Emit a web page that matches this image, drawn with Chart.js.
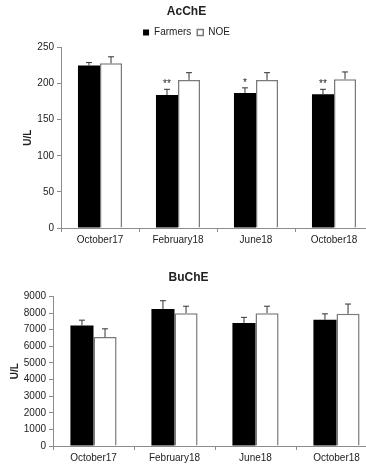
<!DOCTYPE html>
<html>
<head>
<meta charset="utf-8">
<script src="https://cdn.jsdelivr.net/npm/chart.js@4.4.1/dist/chart.umd.min.js"></script>
<style>
  html, body { margin: 0; padding: 0; background: #fff; overflow: hidden; width: 366px; height: 466px; }
  canvas { position: absolute; left: 0; }
  #acheChart { top: 0; }
  #bucheChart { top: 262px; }
</style>
</head>
<body>
<canvas id="acheChart" width="394" height="252"></canvas>
<canvas id="bucheChart" width="406" height="204"></canvas>
<script>
const categories = ['October17', 'February18', 'June18', 'October18'];

const acheFarmers = [225, 184, 187, 185];
const acheFarmersErr = [4, 8, 7, 7];
const acheNoe = [228, 205, 205, 206];
const acheNoeErr = [9, 10, 10, 10];
const acheStars = ['', '**', '*', '**'];
const acheTicks = [0, 50, 100, 150, 200, 250];

const bucheFarmers = [7250, 8240, 7400, 7590];
const bucheFarmersErr = [320, 500, 340, 360];
const bucheNoe = [6550, 7990, 7990, 7950];
const bucheNoeErr = [500, 420, 420, 590];
const bucheTicks = [0, 1000, 2000, 3000, 4000, 5000, 6000, 7000, 8000, 9000];

const FONT = 'Liberation Sans, Arial, sans-serif';
const AXIS = '#8c8c8c';
const TEXT = '#222';

// error bars + significance stars drawn from the y scale
const errorBars = {
    id: 'errorBars',
    afterDatasetsDraw(chart) {
        const ctx = chart.ctx;
        const y = chart.scales.y;
        chart.data.datasets.forEach((ds, i) => {
            const meta = chart.getDatasetMeta(i);
            meta.data.forEach((bar, j) => {
                const v = ds.data[j];
                const top = y.getPixelForValue(v + ds.errors[j]);
                ctx.save();
                ctx.strokeStyle = '#333';
                ctx.lineWidth = 1;
                ctx.beginPath();
                ctx.moveTo(bar.x, y.getPixelForValue(v));
                ctx.lineTo(bar.x, top);
                ctx.moveTo(bar.x - 3, top);
                ctx.lineTo(bar.x + 3, top);
                ctx.stroke();
                if (ds.stars && ds.stars[j]) {
                    ctx.fillStyle = TEXT;
                    ctx.font = '10px ' + FONT;
                    ctx.textAlign = 'center';
                    ctx.textBaseline = 'alphabetic';
                    ctx.fillText(ds.stars[j], bar.x, top - 2);
                }
                ctx.restore();
            });
        });
    }
};

function makeConfig(title, farmers, farmersErr, noe, noeErr, stars, ticks, opts) {
    return {
        type: 'bar',
        data: {
            labels: categories,
            datasets: [
                { label: 'Farmers', data: farmers, errors: farmersErr, stars: stars,
                  backgroundColor: '#000', borderColor: '#000', borderWidth: 0,
                  categoryPercentage: opts.catPct, barPercentage: 1 },
                { label: 'NOE', data: noe, errors: noeErr,
                  backgroundColor: '#fff', borderColor: '#7a7a7a', borderWidth: 1.5,
                  categoryPercentage: opts.catPct, barPercentage: 1 }
            ]
        },
        options: {
            responsive: false,
            animation: false,
            layout: { padding: { left: 0, right: opts.padRight, top: 0, bottom: 0 } },
            plugins: {
                title: { display: true, text: title, color: TEXT,
                         font: { family: FONT, size: 12, weight: 'bold' },
                         padding: { top: opts.titleTop, bottom: opts.titleBottom } },
                legend: { display: opts.legend, position: 'top',
                          labels: { boxWidth: 6, boxHeight: 6, padding: 6, color: TEXT,
                                    font: { family: FONT, size: 10 } } },
                tooltip: { enabled: false }
            },
            scales: {
                x: {
                    grid: { display: true, drawOnChartArea: false, tickLength: 4, color: AXIS, offset: true },
                    border: { color: AXIS },
                    ticks: { color: TEXT, font: { family: FONT, size: 10 }, maxRotation: 0, padding: 2 },
                    afterFit: s => { s.height = opts.xHeight; }
                },
                y: {
                    min: 0, max: ticks[ticks.length - 1],
                    afterBuildTicks: s => { s.ticks = ticks.map(v => ({ value: v })); },
                    grid: { display: true, drawOnChartArea: false, tickLength: 4, color: AXIS },
                    border: { color: AXIS },
                    ticks: { color: TEXT, font: { family: FONT, size: 10 }, padding: 3,
                             callback: v => String(v) },
                    title: { display: true, text: 'U/L', color: TEXT,
                             font: { family: FONT, size: 10, weight: 'bold' },
                             padding: { top: opts.yTitlePad, bottom: 0 } },
                    afterFit: s => { s.width = opts.yWidth; }
                }
            }
        },
        plugins: [errorBars]
    };
}

new Chart(document.getElementById('acheChart'),
    makeConfig('AcChE', acheFarmers, acheFarmersErr, acheNoe, acheNoeErr, acheStars, acheTicks,
        { catPct: 0.565, padRight: 21, titleTop: 4, titleBottom: 3, legend: true,
          xHeight: 24, yWidth: 61, yTitlePad: 22 }));

new Chart(document.getElementById('bucheChart'),
    makeConfig('BuChE', bucheFarmers, bucheFarmersErr, bucheNoe, bucheNoeErr, null, bucheTicks,
        { catPct: 0.57, padRight: 29, titleTop: 8, titleBottom: 12, legend: false,
          xHeight: 20, yWidth: 53, yTitlePad: 9 }));
</script>
</body>
</html>
